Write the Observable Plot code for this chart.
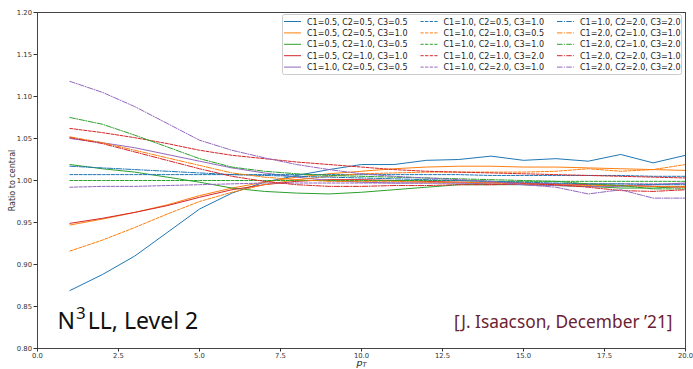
<!DOCTYPE html>
<html><head><meta charset="utf-8">
<script src="https://cdn.jsdelivr.net/npm/d3@7"></script>
<script src="https://cdn.jsdelivr.net/npm/@observablehq/plot@0.6"></script>
<style>
body{margin:0;background:#fff;}
#wrap{position:relative;width:693px;height:369px;}
#legend{position:absolute;left:282px;top:14px;}
</style></head><body><div id="wrap"></div>
<script>
const pT = [1,2,3,4,5,6,7,8,9,10,11,12,13,14,15,16,17,18,19,20];
const labels = [
 "C1=0.5, C2=0.5, C3=0.5","C1=0.5, C2=0.5, C3=1.0","C1=0.5, C2=1.0, C3=0.5","C1=0.5, C2=1.0, C3=1.0","C1=1.0, C2=0.5, C3=0.5",
 "C1=1.0, C2=0.5, C3=1.0","C1=1.0, C2=1.0, C3=0.5","C1=1.0, C2=1.0, C3=1.0","C1=1.0, C2=1.0, C3=2.0","C1=1.0, C2=2.0, C3=1.0",
 "C1=1.0, C2=2.0, C3=2.0","C1=2.0, C2=1.0, C3=1.0","C1=2.0, C2=1.0, C3=2.0","C1=2.0, C2=2.0, C3=1.0","C1=2.0, C2=2.0, C3=2.0"];
const s_05_05_05 = [0.869,0.888,0.910,0.938,0.966,0.985,0.998,1.006,1.013,1.019,1.019,1.024,1.025,1.029,1.024,1.026,1.023,1.031,1.021,1.030];
const s_05_05_10 = [0.947,0.954,0.962,0.971,0.982,0.991,0.998,1.004,1.008,1.011,1.014,1.016,1.017,1.017,1.016,1.016,1.015,1.014,1.013,1.012];
const s_05_10_05 = [1.019,1.014,1.010,1.004,0.998,0.991,0.987,0.985,0.984,0.986,0.989,0.992,0.995,0.995,0.995,0.994,0.993,0.991,0.991,0.993];
const s_05_10_10 = [0.949,0.955,0.962,0.970,0.980,0.989,0.995,0.999,1.001,1.001,1.000,0.999,0.998,0.998,0.997,0.996,0.995,0.994,0.993,0.992];
const s_10_05_05 = [1.050,1.045,1.039,1.031,1.023,1.015,1.009,1.004,1.000,0.998,0.997,0.997,0.997,0.996,0.995,0.994,0.993,0.993,0.995,0.997];
const s_10_05_10 = [1.007,1.007,1.007,1.007,1.007,1.007,1.007,1.007,1.007,1.007,1.007,1.007,1.007,1.006,1.006,1.006,1.006,1.006,1.005,1.005];
const s_10_10_05 = [0.916,0.929,0.944,0.960,0.975,0.986,0.995,1.001,1.005,1.008,1.009,1.010,1.010,1.010,1.010,1.011,1.014,1.011,1.013,1.019];
const s_10_10_10 = [1.000,1.000,1.000,1.000,1.000,1.000,1.000,1.000,1.000,1.000,1.000,1.000,1.000,0.999,0.999,0.999,0.999,0.999,0.999,0.999];
const s_10_10_20 = [1.062,1.057,1.051,1.044,1.036,1.030,1.026,1.022,1.019,1.016,1.013,1.011,1.010,1.009,1.008,1.007,1.006,1.005,1.004,1.003];
const s_10_20_10 = [0.992,0.993,0.993,0.994,0.995,0.996,0.997,0.997,0.997,0.997,0.997,0.997,0.997,0.997,0.997,0.996,0.996,0.996,0.996,0.996];
const s_10_20_20 = [1.017,1.015,1.013,1.011,1.009,1.007,1.006,1.005,1.004,1.003,1.002,1.001,1.000,0.999,0.998,0.997,0.996,0.996,0.995,0.995];
const s_20_10_10 = [1.052,1.045,1.036,1.027,1.018,1.009,1.004,1.001,0.999,0.999,0.999,0.998,0.998,0.997,0.996,0.995,0.994,0.994,0.993,0.993];
const s_20_10_20 = [1.075,1.067,1.054,1.040,1.026,1.016,1.011,1.008,1.006,1.005,1.004,1.003,1.002,1.001,1.000,0.999,0.996,0.994,0.990,0.990];
const s_20_20_10 = [1.051,1.044,1.034,1.024,1.014,1.005,0.999,0.995,0.993,0.993,0.994,0.994,0.995,0.995,0.996,0.995,0.992,0.988,0.987,0.989];
const s_20_20_20 = [1.118,1.105,1.088,1.068,1.048,1.036,1.027,1.019,1.013,1.008,1.005,1.003,1.001,0.999,0.995,0.992,0.984,0.989,0.979,0.979];
const seriesValues = [s_05_05_05,s_05_05_10,s_05_10_05,s_05_10_10,s_10_05_05,s_10_05_10,s_10_10_05,s_10_10_10,s_10_10_20,s_10_20_10,s_10_20_20,s_20_10_10,s_20_10_20,s_20_20_10,s_20_20_20];
const xTicks = [0,2.5,5,7.5,10,12.5,15,17.5,20];
const yTicks = [0.80,0.85,0.90,0.95,1.00,1.05,1.10,1.15,1.20];
const xLabelText = ["pT"];
const titleText = ["N3LL, Level 2"];
const citeText = ["[J. Isaacson, December \u201921]"];

const colors = ["#1f77b4","#ff7f0e","#2ca02c","#d62728","#9467bd"];
const dashes = [null,"3.2,1.4","5.5,1.4,1,1.4"];

const lineMarks = seriesValues.map((vals,i)=>{
  const rows = pT.map((x,j)=>({x, y: vals[j]}));
  return Plot.line(rows,{x:"x",y:"y",stroke:colors[i%5],strokeWidth:1,strokeDasharray:dashes[Math.floor(i/5)]});
});

const chart = Plot.plot({
  width:693,height:369,marginLeft:37,marginRight:8,marginTop:12,marginBottom:21,
  style:{fontFamily:"DejaVu Sans, sans-serif",fontSize:"6.8px",color:"#333",background:"#fff"},
  x:{domain:[0,20]},
  y:{domain:[0.8,1.2]},
  marks:[
    ...lineMarks,
    Plot.frame({stroke:"#444",strokeWidth:1}),
    Plot.axisX({ticks:xTicks,tickFormat:d3.format(".1f"),tickSize:3.5,tickPadding:1,label:null}),
    Plot.axisY({ticks:yTicks,tickFormat:d3.format(".2f"),tickSize:3.5,tickPadding:2,label:"Ratio to central",labelAnchor:"center",labelArrow:"none",labelOffset:28}),
    Plot.text(xLabelText,{text:d=>d,frameAnchor:"bottom",lineAnchor:"middle",dy:15,fill:"#222"}),
    Plot.text(titleText,{text:d=>d,frameAnchor:"bottom-left",textAnchor:"start",lineAnchor:"bottom",dx:20,dy:-20,fontSize:23,fontFamily:"Noto Sans",fill:"#111"}),
    Plot.text(citeText,{text:d=>d,frameAnchor:"bottom-right",textAnchor:"end",lineAnchor:"bottom",dx:-13,dy:-21,fontSize:17.3,fontFamily:"Noto Sans",fill:"#6c2232"})
  ]
});
const wrap = document.getElementById("wrap");
wrap.appendChild(chart);

// rich text fixes
chart.querySelectorAll("text").forEach(t=>{
  if (t.textContent === xLabelText[0]) {
    const ts = t.querySelector("tspan") || t;
    ts.textContent = "";
    const a = document.createElementNS("http://www.w3.org/2000/svg","tspan");
    a.setAttribute("font-style","italic"); a.setAttribute("font-size","9.5"); a.textContent="p";
    const b = document.createElementNS("http://www.w3.org/2000/svg","tspan");
    b.setAttribute("font-style","italic"); b.setAttribute("font-size","6.5"); b.setAttribute("dy","1.5"); b.textContent="T";
    ts.appendChild(a); ts.appendChild(b);
  }
  if (t.textContent === "Ratio to central") {
    t.setAttribute("font-size","8");
  }
  if (t.textContent === titleText[0]) {
    const ts = t.querySelector("tspan") || t;
    ts.textContent = "";
    const parts = [["N",null,null,null],["3","-10","17","1"],["LL, Level 2","10",null,"2"]];
    parts.forEach(([s,dy,fs,dx])=>{
      const sp = document.createElementNS("http://www.w3.org/2000/svg","tspan");
      if (dy) sp.setAttribute("dy",dy);
      if (dx) sp.setAttribute("dx",dx);
      if (fs) sp.setAttribute("font-size",fs);
      sp.textContent = s; ts.appendChild(sp);
    });
  }
});

// legend
const lg = d3.select(wrap).append("svg").attr("id","legend").attr("width",401).attr("height",62);
lg.append("rect").attr("x",0.5).attr("y",0.5).attr("width",399).attr("height",60).attr("rx",2)
  .attr("fill","rgba(255,255,255,0.85)").attr("stroke","#ccc");
labels.forEach((lab,i)=>{
  const col = Math.floor(i/5), row = i%5;
  const g = lg.append("g").attr("transform",`translate(${2+col*136.5},${7.5+row*11.4})`);
  g.append("line").attr("x1",0).attr("x2",17).attr("y1",0).attr("y2",0)
    .attr("stroke",colors[i%5]).attr("stroke-width",1).attr("stroke-dasharray",dashes[col]);
  g.append("text").attr("x",23).attr("y",3).attr("font-family","DejaVu Sans").attr("font-size",8).attr("fill","#222").text(lab);
});
</script></body></html>
